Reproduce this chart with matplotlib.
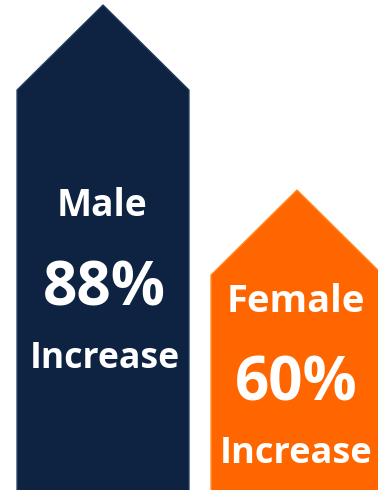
import matplotlib
matplotlib.use("Agg")
import matplotlib.pyplot as plt
from matplotlib.patches import Polygon
from matplotlib.font_manager import FontProperties
from matplotlib.textpath import TextPath

# Data
groups = ["Male", "Female"]
increase_pct = [88, 60]
fill_colors = ["#0E2341", "#FF6600"]
edge_colors = ["#1F3A5C", "#FF8A1F"]

W, H = 378, 490
DPI = 100
fig = plt.figure(figsize=(W / DPI, H / DPI), dpi=DPI)
ax = fig.add_axes([0, 0, 1, 1])

# Axis scales: category spacing and value range
x_left, x_right = -0.531, 1.4175
y_bottom, y_top = 14.6, 88.76
ax.set_xlim(x_left, x_right)
ax.set_ylim(y_bottom, y_top)
ax.axis("off")

half_w = 0.443      # half width of each arrow (category units)
head_h = 12.87      # height of the arrow head (value units)

for i, (val, fc, ec) in enumerate(zip(increase_pct, fill_colors, edge_colors)):
    pts = [
        (i - half_w, y_bottom - 5),
        (i - half_w, val - head_h),
        (i, val),
        (i + half_w, val - head_h),
        (i + half_w, y_bottom - 5),
    ]
    ax.add_patch(Polygon(pts, closed=True, facecolor=fc, edgecolor=ec,
                         linewidth=1.0, joinstyle="miter"))

fp = FontProperties(family="Open Sans", weight="bold")


def fit_size(s, w_px, h_px):
    """Font size (pt) whose ink box best fits w_px by h_px."""
    ext = TextPath((0, 0), s, size=10, prop=fp).get_extents()
    px_per_unit = DPI / 72 / 10
    size_w = 10 * w_px / (ext.width * 10 * px_per_unit)
    size_h = 10 * h_px / (ext.height * 10 * px_per_unit)
    return (size_w * size_h) ** 0.5


labels = [
    # (center x px, baseline px, text, ink width px, ink height px)
    (102, 216, groups[0], 94, 26),
    (104, 305, f"{increase_pct[0]}%", 125, 42),
    (105, 368, "Increase", 144, 26),
    (296, 312, groups[1], 139, 28),
    (296, 400, f"{increase_pct[1]}%", 122, 43),
    (296, 463, "Increase", 138, 28),
]
for x, y, s, w, h in labels:
    fig.text(x / W, 1 - y / H, s, ha="center", va="baseline", color="white",
             fontsize=fit_size(s, w, h), fontproperties=fp)

fig.savefig("out.png", dpi=DPI)
